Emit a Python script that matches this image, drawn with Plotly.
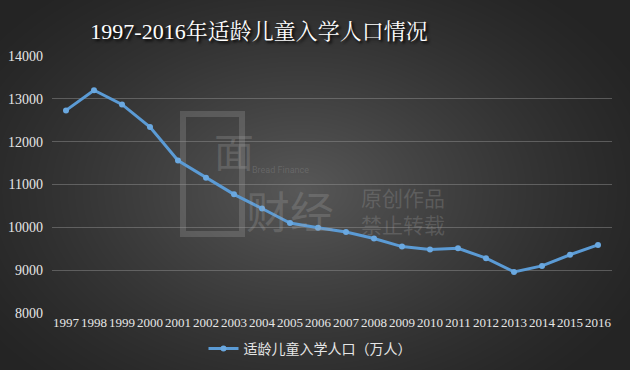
import base64, struct, zlib
import numpy as np
import plotly.graph_objects as go

years = [str(y) for y in range(1997, 2017)]
enroll = [12730, 13200, 12870, 12340, 11560, 11160, 10770, 10440, 10100, 9990,
          9890, 9740, 9550, 9480, 9510, 9280, 8960, 9100, 9360, 9590]
y_ticks = [8000, 9000, 10000, 11000, 12000, 13000, 14000]
series_name = "适龄儿童入学人口（万人）"
title_text = "1997-2016年适龄儿童入学人口情况"

W, H = 630, 370

# radial gradient background as PNG
def gradient_png(w, h):
    yy, xx = np.mgrid[0:h, 0:w].astype(float)
    cx, cy = 300, 190
    r = np.sqrt(((xx - cx) / (w * 0.62)) ** 2 + ((yy - cy) / (h * 0.72)) ** 2)
    r = np.clip(r, 0, 1)
    t = (1 - r) ** 1.3
    edge, center = 36, 88
    v = edge + (center - edge) * t
    img = np.clip(v, 0, 255).astype(np.uint8)
    rgb = np.stack([img, img, img], axis=-1)
    raw = b"".join(b"\x00" + rgb[i].tobytes() for i in range(h))
    def chunk(tag, data):
        c = struct.pack(">I", len(data)) + tag + data
        return c + struct.pack(">I", zlib.crc32(tag + data) & 0xffffffff)
    png = b"\x89PNG\r\n\x1a\n"
    png += chunk(b"IHDR", struct.pack(">IIBBBBB", w, h, 8, 2, 0, 0, 0))
    png += chunk(b"IDAT", zlib.compress(raw, 9))
    png += chunk(b"IEND", b"")
    return "data:image/png;base64," + base64.b64encode(png).decode()

ml, mr, mt, mb = 52, 18, 56, 57
pw, ph = W - ml - mr, H - mt - mb

fig = go.Figure()
fig.add_trace(go.Scatter(
    x=years, y=enroll, mode="lines+markers", name=series_name,
    line=dict(color="#5b9bd5", width=3),
    marker=dict(size=6, color="#6aa8e0", line=dict(width=0)),
))

wm = "rgba(170,170,170,0.25)"
fig.update_layout(
    width=W, height=H,
    margin=dict(l=ml, r=mr, t=mt, b=mb, autoexpand=False),
    paper_bgcolor="#2a2a2a", plot_bgcolor="rgba(0,0,0,0)",
    images=[dict(source=gradient_png(W, H), xref="paper", yref="paper",
                 x=-ml / pw, y=1 + mt / ph, sizex=W / pw, sizey=H / ph,
                 xanchor="left", yanchor="top", sizing="stretch", layer="below")],
    title=dict(text=title_text, x=259 / W, xanchor="center", y=1 - 31 / H, yanchor="middle",
               font=dict(family="Liberation Serif, Noto Serif CJK SC, Noto Sans CJK SC", size=22,
                         color="#ffffff", shadow="2px 2px 3px #000000")),
    xaxis=dict(type="category", range=[-0.5, len(years) - 0.5], automargin=False,
               showgrid=False, zeroline=False, showline=False,
               ticks="", tickangle=0,
               tickfont=dict(family="Liberation Serif, serif", size=13, color="#e6e6e6")),
    yaxis=dict(range=[8000, 14000], tickvals=y_ticks, tickformat="d", automargin=False,
               showgrid=True, ticklabelstandoff=8,
               gridcolor="rgba(150,150,150,0.45)", gridwidth=1, zeroline=False, showline=False,
               ticks="", tickfont=dict(family="Liberation Serif, serif", size=14, color="#e6e6e6")),
    showlegend=True,
    legend=dict(orientation="h", xref="container", yref="container",
                x=310 / W, xanchor="center", y=1 - 349 / H, yanchor="middle",
                bgcolor="rgba(0,0,0,0)", itemwidth=30,
                font=dict(family="Noto Sans CJK SC", size=14, color="#e6e6e6")),
    shapes=[dict(type="path", xref="paper", yref="paper", layer="below",
                 path=("M {x0},{y0} L {x1},{y0} L {x1},{y1} L {x0},{y1} Z").format(
                     x0=(183 - ml) / pw, x1=(242 - ml) / pw,
                     y0=1 - (114 - mt) / ph, y1=1 - (234 - mt) / ph),
                 line=dict(color=wm, width=6), fillcolor="rgba(0,0,0,0)")],
    annotations=[
        dict(text="面", xref="paper", yref="paper", x=(212 - ml) / pw, y=1 - (150 - mt) / ph,
             showarrow=False, font=dict(family="Noto Sans CJK SC", size=40, color=wm)),
        dict(text="Bread Finance", xref="paper", yref="paper", x=(280 - ml) / pw, y=1 - (170 - mt) / ph,
             showarrow=False, font=dict(family="Roboto", size=9, color=wm)),
        dict(text="财经", xref="paper", yref="paper", x=(290 - ml) / pw, y=1 - (210 - mt) / ph,
             showarrow=False, font=dict(family="Noto Sans CJK SC", size=44, color=wm)),
        dict(text="原创作品<br>禁止转载", xref="paper", yref="paper", x=(403 - ml) / pw, y=1 - (210 - mt) / ph,
             showarrow=False, align="left",
             font=dict(family="Noto Sans CJK SC", size=21, color=wm)),
    ],
)

fig.write_html("out.html", config={"displayModeBar": False},
               post_script="document.body.style.margin='0';")
